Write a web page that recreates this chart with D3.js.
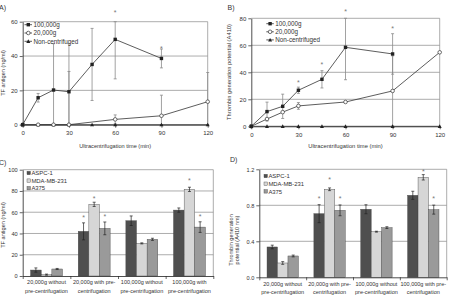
<!DOCTYPE html>
<html><head><meta charset="utf-8">
<script src="https://cdn.jsdelivr.net/npm/d3@7"></script>
<style>body{margin:0;background:#fff}svg{display:block}text{font-family:"Liberation Sans",Arial,sans-serif}</style>
</head><body><svg id="c" width="451" height="297"></svg>
<script>
// ---------- DATA ----------
const times = [0,10,20,30,45,60,90,120];
const lineSeries = ["100,000g","20,000g","Non-centrifuged"];
// Panel A: TF antigen (ng/ml)
const tfA_100k    = [0,15.7,20.2,19.2,35.1,49.7,38.6,null];
const tfA_100kErr = [0,2.5,27,28,21,23,5.5,null];
const tfA_20k     = [0,0,0,0,null,3.1,5.2,13.4];
const tfA_20kErr  = [0,0,0,31,null,2.6,12,17];
const tfA_non     = [0,0,0,0,0,0,0,0];
const tfA_star    = [null,null,null,null,null,65.8,44.8,null];
const tfA_yTicks  = [0,20,40,60];
// Panel B: Thrombin generation potential (A410)
const tgB_100k    = [0,10.9,14.8,26.7,34.8,58.5,53.6,null];
const tgB_100kErr = [0,7,9,2.3,6.4,24,15,null];
const tgB_20k     = [0,5.4,10.5,15.1,null,18.0,26.2,54.8];
const tgB_20kErr  = [0,0,0,2.5,null,0,26,0];
const tgB_non     = [0,0,0,0,0,0,0,0];
const tgB_star    = [null,null,null,33.6,46.9,86.1,73.3,null];
const tgB_yTicks  = [0,20,40,60,80];
const xTicks = [0,30,60,90,120];

// Bar panels
const cells = ["ASPC-1","MDA-MB-231","A375"];
const catsC = [["20,000g without","pre-centrifugation"],["20,000g with pre-","centrifugation"],["100,000g without","pre-centrifugation"],["100,000g with","pre-centrifugation"]];
const catsD = [["20,000g without","pre-centrifugation"],["20,000g with pre-","centrifugation"],["100,000g without","pre-centrifugation"],["100,000g with pre-","centrifugation"]];
// Panel C: TF antigen (ng/ml)
const tfC_ASPC  = [5.6,42,52,62];     const tfC_ASPCErr = [2,8,4.5,2];
const tfC_MDA   = [1.3,67.4,30.7,81.5]; const tfC_MDAErr = [0.5,2,0.5,2];
const tfC_A375  = [6.6,44.8,34.5,46]; const tfC_A375Err = [0.5,6,1,5];
const tfC_starASPC = [null,56.4,null,null];
const tfC_starMDA  = [null,74,null,90.6];
const tfC_starA375 = [null,56.7,null,57.1];
const tfC_yTicks = [0,20,40,60,80,100];
// Panel D: Thrombin generation potential (A410 nm)
const tgD_ASPC = [0.337,0.707,0.756,0.911]; const tgD_ASPCErr = [0.02,0.1,0.05,0.045];
const tgD_MDA  = [0.159,0.978,0.507,1.111]; const tgD_MDAErr  = [0.015,0.015,0.005,0.03];
const tgD_A375 = [0.237,0.744,0.552,0.752]; const tgD_A375Err = [0.01,0.06,0.01,0.05];
const tgD_starASPC = [null,0.889,null,null];
const tgD_starMDA  = [null,1.096,null,1.192];
const tgD_starA375 = [null,0.889,null,0.889];
const tgD_yTicks = [0,0.4,0.8,1.2];

// ---------- DRAW ----------
const svg = d3.select("#c");
svg.append("rect").attr("width",451).attr("height",297).attr("fill","#fff");
const TXT = "#333", GRID = "#8a8a8a", AX = "#222", ERR = "#8a8a8a", STAR = "#777";

function styleAxis(sel, fs) {
  sel.select(".domain").attr("stroke", AX).attr("stroke-width", 0.8);
  sel.selectAll(".tick line").attr("stroke", AX).attr("stroke-width", 0.7);
  sel.selectAll(".tick text").attr("fill", TXT).attr("font-size", fs).attr("font-family", '"Liberation Sans",Arial,sans-serif');
}

function marker(g, type, cx, cy) {
  if (type === 0) {
    g.append("rect").attr("x", cx-1.7).attr("y", cy-1.7).attr("width", 3.4).attr("height", 3.4).attr("fill", "#222");
  } else if (type === 1) {
    g.append("circle").attr("cx", cx).attr("cy", cy).attr("r", 1.8).attr("fill", "#fff").attr("stroke", "#333").attr("stroke-width", 0.7);
  } else {
    g.append("path").attr("d", `M${cx},${cy-2}L${cx+2},${cy+1.6}L${cx-2},${cy+1.6}Z`).attr("fill", "#222");
  }
}

function linePanel(c) {
  const g = svg.append("g");
  const x = d3.scaleLinear().domain([0,120]).range([c.left,c.right]);
  const y = d3.scaleLinear().domain([0,c.yMax]).range([c.bottom,c.top]);
  g.selectAll("line.grid").data(c.yTicks.filter(t => t > 0)).join("line").attr("class","grid")
    .attr("x1", c.left).attr("x2", c.right).attr("y1", d => y(d)).attr("y2", d => y(d))
    .attr("stroke", GRID).attr("stroke-width", 0.7);
  g.append("line").attr("x1", c.right).attr("x2", c.right).attr("y1", c.top).attr("y2", c.bottom)
    .attr("stroke", GRID).attr("stroke-width", 0.7);
  // error bars
  c.series.forEach(s => {
    if (!s.err) return;
    times.forEach((t,i) => {
      const v = s.vals[i], e = s.err[i];
      if (v == null || !e) return;
      const y1 = y(Math.max(0, v - e)), y2 = y(Math.min(c.yMax, v + e));
      g.append("line").attr("x1", x(t)).attr("x2", x(t)).attr("y1", y1).attr("y2", y2).attr("stroke", ERR).attr("stroke-width", 0.8);
      [y1, y2].forEach(yy => g.append("line").attr("x1", x(t)-1.5).attr("x2", x(t)+1.5).attr("y1", yy).attr("y2", yy).attr("stroke", ERR).attr("stroke-width", 0.8));
    });
  });
  // axes
  const ya = g.append("g").attr("transform", `translate(${c.left},0)`)
    .call(d3.axisLeft(y).tickValues(c.yTicks).tickSize(3).tickSizeOuter(0).tickPadding(2));
  styleAxis(ya, c.tickFs);
  const xa = g.append("g").attr("transform", `translate(0,${c.bottom})`)
    .call(d3.axisBottom(x).tickValues(xTicks).tickSize(3).tickSizeOuter(0).tickPadding(3));
  styleAxis(xa, c.tickFs);
  // lines + markers (draw non-centrifuged, 20k, then 100k)
  const line = d3.line().x(d => x(d[0])).y(d => y(d[1]));
  [2,1,0].forEach(k => {
    const s = c.series[k];
    const pts = times.map((t,i) => [t, s.vals[i]]).filter(d => d[1] != null);
    g.append("path").attr("d", line(pts)).attr("fill", "none").attr("stroke", "#333").attr("stroke-width", 0.8);
    pts.forEach(p => marker(g, k, x(p[0]), y(p[1])));
  });
  // stars
  times.forEach((t,i) => {
    const lv = c.stars[i];
    if (lv == null) return;
    g.append("text").attr("x", x(t)).attr("y", y(lv) + 3.6).attr("text-anchor", "middle")
      .attr("font-size", 7).attr("fill", STAR).text("*");
  });
  // legend
  lineSeries.forEach((name,k) => {
    const ly = c.legY + k * c.legDy;
    g.append("line").attr("x1", c.legX).attr("x2", c.legX + 7.5).attr("y1", ly).attr("y2", ly).attr("stroke", "#333").attr("stroke-width", 0.8);
    marker(g, k, c.legX + 3.8, ly);
    g.append("text").attr("x", c.legX + 9).attr("y", ly + 2.2).attr("font-size", c.legFs).attr("fill", TXT).text(name);
  });
  // titles
  g.append("text").attr("x", (c.left + c.right)/2).attr("y", c.xTitleY).attr("text-anchor", "middle")
    .attr("font-size", c.titleFs).attr("fill", TXT).text("Ultracentrifugation time (min)");
  g.append("text").attr("transform", `translate(${c.yTitleX},${c.yTitleY}) rotate(-90)`).attr("text-anchor", "middle")
    .attr("font-size", c.titleFs).attr("fill", TXT).text(c.yTitle);
  g.append("text").attr("x", c.labX).attr("y", c.labY).attr("font-size", 7).attr("fill", TXT).text(c.label);
}

const barFills = ["#4f4f4f","#d6d6d6","#9a9a9a"];

function barPanel(c) {
  const g = svg.append("g");
  const x0 = d3.scaleBand().domain(d3.range(c.cats.length)).range([c.left, c.right]);
  const bw = x0.bandwidth();
  const x1 = d3.scaleBand().domain(d3.range(cells.length)).range([bw*0.165, bw*0.835]);
  const y = d3.scaleLinear().domain([0, c.yMax]).range([c.bottom, c.top]);
  g.selectAll("line.grid").data(c.yTicks.filter(t => t > 0)).join("line").attr("class","grid")
    .attr("x1", c.left).attr("x2", c.right).attr("y1", d => y(d)).attr("y2", d => y(d))
    .attr("stroke", GRID).attr("stroke-width", 0.7);
  g.append("line").attr("x1", c.right).attr("x2", c.right).attr("y1", c.top).attr("y2", c.bottom)
    .attr("stroke", GRID).attr("stroke-width", 0.7);
  c.series.forEach((s, k) => {
    s.vals.forEach((v, i) => {
      const bx = x0(i) + x1(k);
      g.append("rect").attr("x", bx).attr("y", y(v)).attr("width", x1.bandwidth()).attr("height", y(0) - y(v))
        .attr("fill", barFills[k]).attr("stroke", "#444").attr("stroke-width", 0.4);
      const cx = bx + x1.bandwidth()/2, e = s.err[i];
      const ya1 = y(Math.max(0, v - e)), ya2 = y(v + e);
      g.append("line").attr("x1", cx).attr("x2", cx).attr("y1", ya1).attr("y2", ya2).attr("stroke", "#222").attr("stroke-width", 0.7);
      [ya1, ya2].forEach(yy => g.append("line").attr("x1", cx-1.5).attr("x2", cx+1.5).attr("y1", yy).attr("y2", yy).attr("stroke", "#222").attr("stroke-width", 0.7));
      const st = s.stars[i];
      if (st != null) g.append("text").attr("x", cx).attr("y", y(st) + 3.6).attr("text-anchor", "middle")
        .attr("font-size", 7).attr("fill", STAR).text("*");
    });
  });
  const ya = g.append("g").attr("transform", `translate(${c.left},0)`)
    .call(d3.axisLeft(y).tickValues(c.yTicks).tickSize(3).tickSizeOuter(0).tickPadding(2).tickFormat(c.fmt));
  styleAxis(ya, c.tickFs);
  const xa = g.append("g").attr("transform", `translate(0,${c.bottom})`)
    .call(d3.axisBottom(d3.scaleLinear().domain([0, c.cats.length]).range([c.left, c.right]))
      .tickValues(d3.range(c.cats.length + 1)).tickSize(3).tickSizeOuter(0).tickFormat(""));
  styleAxis(xa, c.tickFs);
  c.cats.forEach((lines, i) => {
    const t = g.append("text").attr("x", x0(i) + bw/2).attr("y", c.bottom + 8.3).attr("text-anchor", "middle")
      .attr("font-size", c.catFs).attr("fill", TXT);
    lines.forEach((ln, j) => t.append("tspan").attr("x", x0(i) + bw/2).attr("dy", j ? 8.4 : 0).text(ln));
  });
  cells.forEach((name, k) => {
    const ly = c.legY + k * c.legDy;
    g.append("rect").attr("x", c.legX).attr("y", ly - 1.7).attr("width", 3.4).attr("height", 3.4)
      .attr("fill", barFills[k]).attr("stroke", "#444").attr("stroke-width", 0.4);
    g.append("text").attr("x", c.legX + 4.4).attr("y", ly + 2.1).attr("font-size", c.legFs).attr("fill", TXT).text(name);
  });
  const yt = g.append("text").attr("transform", `translate(${c.yTitleX},${c.yTitleY}) rotate(-90)`).attr("text-anchor", "middle")
    .attr("font-size", c.titleFs).attr("fill", TXT);
  c.yTitle.forEach((ln, j) => yt.append("tspan").attr("x", 0).attr("dy", j ? c.titleFs * 1.15 : 0).text(ln));
  g.append("text").attr("x", c.labX).attr("y", c.labY).attr("font-size", 7).attr("fill", TXT).text(c.label);
}

linePanel({
  left: 22.7, right: 207.7, top: 21.7, bottom: 124.7, yMax: 60, yTicks: tfA_yTicks,
  series: [{vals: tfA_100k, err: tfA_100kErr}, {vals: tfA_20k, err: tfA_20kErr}, {vals: tfA_non}],
  stars: tfA_star, tickFs: 6, legFs: 6.3, legX: 24.5, legY: 24.7, legDy: 8.3,
  titleFs: 5.6, xTitleY: 147.6, yTitle: "TF antigen (ng/ml)", yTitleX: 5, yTitleY: 73,
  label: "A)", labX: -1, labY: 10
});
linePanel({
  left: 251.3, right: 439.7, top: 18.3, bottom: 126.3, yMax: 80, yTicks: tgB_yTicks,
  series: [{vals: tgB_100k, err: tgB_100kErr}, {vals: tgB_20k, err: tgB_20kErr}, {vals: tgB_non}],
  stars: tgB_star, tickFs: 6, legFs: 6.3, legX: 266.3, legY: 23.7, legDy: 8.1,
  titleFs: 5.8, xTitleY: 147.8, yTitle: "Thrombin generation potential (A410)", yTitleX: 231, yTitleY: 72,
  label: "B)", labX: 227.5, labY: 10
});
barPanel({
  left: 22.7, right: 213.3, top: 169.7, bottom: 276, yMax: 100, yTicks: tfC_yTicks, fmt: d3.format("d"),
  cats: catsC,
  series: [{vals: tfC_ASPC, err: tfC_ASPCErr, stars: tfC_starASPC},
           {vals: tfC_MDA, err: tfC_MDAErr, stars: tfC_starMDA},
           {vals: tfC_A375, err: tfC_A375Err, stars: tfC_starA375}],
  tickFs: 5.6, catFs: 5.5, legFs: 5.9, legX: 27, legY: 173, legDy: 7.6,
  titleFs: 5.6, yTitle: ["TF antigen (ng/ml)"], yTitleX: 5, yTitleY: 225,
  label: "C)", labX: -1, labY: 164.5
});
barPanel({
  left: 259.3, right: 446.7, top: 169.3, bottom: 277.3, yMax: 1.2, yTicks: tgD_yTicks, fmt: d3.format(".1f"),
  cats: catsD,
  series: [{vals: tgD_ASPC, err: tgD_ASPCErr, stars: tgD_starASPC},
           {vals: tgD_MDA, err: tgD_MDAErr, stars: tgD_starMDA},
           {vals: tgD_A375, err: tgD_A375Err, stars: tgD_starA375}],
  tickFs: 5.6, catFs: 5.5, legFs: 5.9, legX: 264, legY: 176, legDy: 7.7,
  titleFs: 5.6, yTitle: ["Thrombin generation", "potential (A410 nm)"], yTitleX: 233, yTitleY: 240,
  label: "D)", labX: 230, labY: 162
});
</script></body></html>
